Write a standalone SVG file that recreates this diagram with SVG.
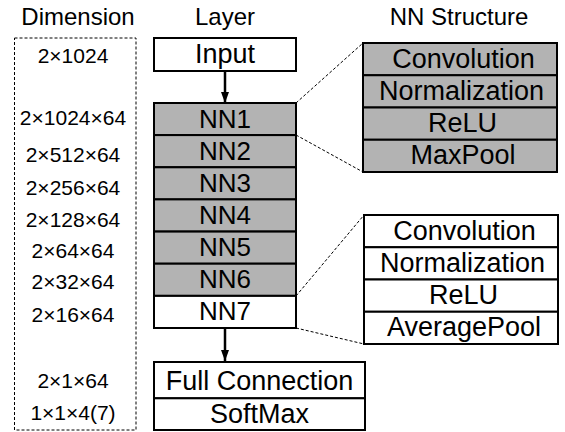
<svg xmlns="http://www.w3.org/2000/svg" width="565" height="432" viewBox="0 0 565 432">
<style>
text{font-family:"Liberation Sans",Arial,sans-serif;fill:#000;text-anchor:middle}
.h{font-size:24px}
.d{font-size:21px}
.b{font-size:27px}
.n{font-size:26px}
.box{stroke:#000;stroke-width:2}
.g{fill:#b3b3b3}
.w{fill:#fff}
.dash{fill:none;stroke:#000;stroke-width:1;stroke-dasharray:3,2}
.arr{stroke:#000;stroke-width:2.5;fill:none}
</style>
<defs>
<marker id="ah" viewBox="0 0 11 8" refX="11" refY="4" markerWidth="11" markerHeight="8" orient="auto" markerUnits="userSpaceOnUse">
<path d="M0,0L11,4L0,8z" fill="#000"/>
</marker>
</defs>
<rect width="565" height="432" fill="#fff"/>
<g id="headers">
<text class="h" x="78" y="25">Dimension</text>
<text class="h" x="225" y="25">Layer</text>
<text class="h" x="459" y="25">NN Structure</text>
</g>
<g id="dimensions">
<rect class="dash" x="14.5" y="38" width="121.5" height="392"/>
<text class="d" x="73" y="63">2×1024</text>
<text class="d" x="73" y="125">2×1024×64</text>
<text class="d" x="73" y="161.5">2×512×64</text>
<text class="d" x="73" y="195">2×256×64</text>
<text class="d" x="73" y="226.5">2×128×64</text>
<text class="d" x="73" y="258">2×64×64</text>
<text class="d" x="73" y="288.5">2×32×64</text>
<text class="d" x="73" y="321.5">2×16×64</text>
<text class="d" x="73" y="388">2×1×64</text>
<text class="d" x="73" y="420">1×1×4(7)</text>
</g>
<g id="connectors">
<line class="arr" x1="225" y1="71" x2="225" y2="103" marker-end="url(#ah)"/>
<line class="arr" x1="225" y1="328" x2="225" y2="361" marker-end="url(#ah)"/>
<line class="dash" x1="296" y1="103" x2="363" y2="43"/>
<line class="dash" x1="296" y1="135" x2="363" y2="172"/>
<line class="dash" x1="296" y1="296" x2="364" y2="215"/>
<line class="dash" x1="296" y1="328" x2="364" y2="344"/>
</g>
<g id="input">
<rect class="box w" x="154" y="38" width="142" height="33"/>
<text class="b" x="225" y="63">Input</text>
</g>
<g id="nn1"><rect class="box g" x="154" y="103" width="142" height="32.1"/><text class="n" x="225" y="127.5">NN1</text></g>
<g id="nn2"><rect class="box g" x="154" y="135.1" width="142" height="32.1"/><text class="n" x="225" y="159.7">NN2</text></g>
<g id="nn3"><rect class="box g" x="154" y="167.3" width="142" height="32.1"/><text class="n" x="225" y="191.8">NN3</text></g>
<g id="nn4"><rect class="box g" x="154" y="199.4" width="142" height="32.1"/><text class="n" x="225" y="224">NN4</text></g>
<g id="nn5"><rect class="box g" x="154" y="231.6" width="142" height="32.1"/><text class="n" x="225" y="256.1">NN5</text></g>
<g id="nn6"><rect class="box g" x="154" y="263.7" width="142" height="32.1"/><text class="n" x="225" y="288.3">NN6</text></g>
<g id="nn7"><rect class="box w" x="154" y="295.9" width="142" height="32.1"/><text class="n" x="225" y="320.4">NN7</text></g>
<g id="fc"><rect class="box w" x="154" y="362" width="211" height="36.3"/><text class="b" x="259.5" y="390">Full Connection</text></g>
<g id="softmax"><rect class="box w" x="154" y="398.3" width="211" height="31.7"/><text class="b" x="259.5" y="423">SoftMax</text></g>
<g id="struct1">
<rect class="box g" x="363" y="43" width="194" height="32.25"/><text class="b" x="463.5" y="67.5">Convolution</text>
<rect class="box g" x="363" y="75.25" width="194" height="32.25"/><text class="b" x="461.5" y="99.8">Normalization</text>
<rect class="box g" x="363" y="107.5" width="194" height="32.25"/><text class="b" x="462.5" y="132">ReLU</text>
<rect class="box g" x="363" y="139.75" width="194" height="32.25"/><text class="b" x="463" y="164.3">MaxPool</text>
</g>
<g id="struct2">
<rect class="box w" x="364" y="215" width="194" height="32.25"/><text class="b" x="464.5" y="239.5">Convolution</text>
<rect class="box w" x="364" y="247.25" width="194" height="32.25"/><text class="b" x="462.5" y="271.8">Normalization</text>
<rect class="box w" x="364" y="279.5" width="194" height="32.25"/><text class="b" x="463.5" y="304">ReLU</text>
<rect class="box w" x="364" y="311.75" width="194" height="32.25"/><text class="b" x="464" y="336.3">AveragePool</text>
</g>
</svg>
